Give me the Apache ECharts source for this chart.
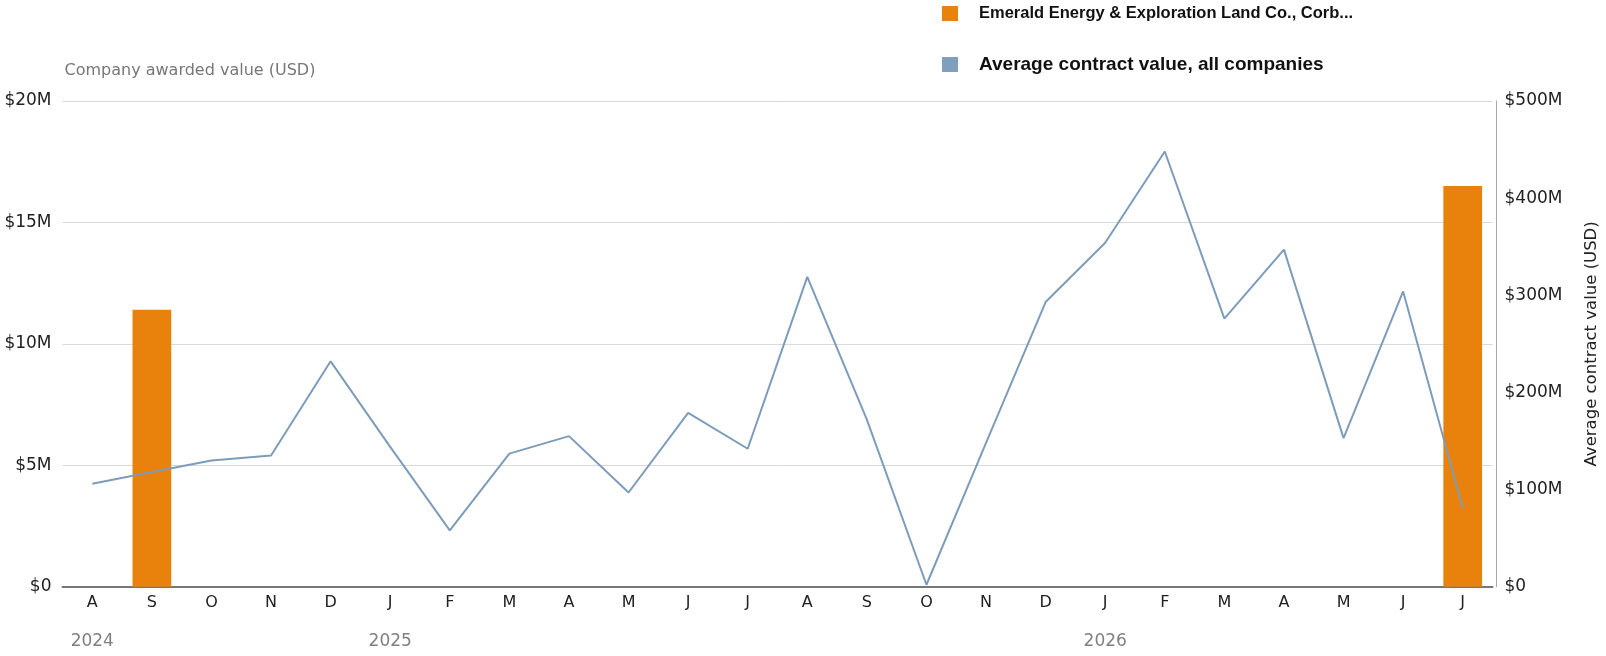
<!DOCTYPE html>
<html>
<head>
<meta charset="utf-8">
<script src="https://cdn.jsdelivr.net/npm/echarts@6/dist/echarts.min.js"></script>
<style>
	html, body { margin: 0; padding: 0; background: #fff; overflow: hidden; }
	#chart { width: 1606px; height: 656px; }
</style>
</head>
<body>
<div id="chart"></div>
<script>
// months from Aug 2024 to Jul 2026
var months = ['A', 'S', 'O', 'N', 'D', 'J', 'F', 'M', 'A', 'M', 'J', 'J',
	'A', 'S', 'O', 'N', 'D', 'J', 'F', 'M', 'A', 'M', 'J', 'J'];
var yearLabels = ['2024', '', '', '', '', '2025', '', '', '', '', '', '',
	'', '', '', '', '', '2026', '', '', '', '', '', ''];
// company awarded value, millions USD (left axis)
var companyValues = [0, 11.4, 0, 0, 0, 0, 0, 0, 0, 0, 0, 0,
	0, 0, 0, 0, 0, 0, 0, 0, 0, 0, 0, 16.5];
// average contract value, all companies, millions USD (right axis)
var averageValues = [106, 118, 130, 135, 232, 144, 58, 137, 155, 97, 179, 142,
	319, 172, 2, 148, 293, 354, 448, 276, 347, 153, 304, 81];

var companyName = 'Emerald Energy & Exploration Land Co., Corb...';
var averageName = 'Average contract value, all companies';

var baseFont = '"DejaVu Sans", Verdana, sans-serif';

function moneyLabel(v) {
	return v === 0 ? '$0' : '$' + v + 'M';
}

var chart = echarts.init(document.getElementById('chart'));

var option = {
	animation: false,
	backgroundColor: '#fff',
	textStyle: { fontFamily: baseFont },
	legend: {
		orient: 'vertical',
		left: 942,
		top: 5,
		padding: 0,
		icon: 'rect',
		itemWidth: 16,
		itemHeight: 15,
		itemGap: 33,
		selectedMode: false,
		textStyle: {
			fontFamily: '"Liberation Sans", Arial, sans-serif',
			fontWeight: 'bold',
			fontSize: 19,
			color: '#111',
			lineHeight: 15,
			padding: [0, 0, 0, 16]
		},
		data: [{
			name: companyName,
			textStyle: { fontSize: 16.5 }
		}, {
			name: averageName
		}]
	},
	grid: {
		left: 62.5,
		right: 113.5,
		top: 101,
		bottom: 69.3,
		containLabel: false,
		outerBoundsMode: 'none'
	},
	xAxis: [{
		type: 'category',
		data: months,
		boundaryGap: true,
		axisLine: { show: true, lineStyle: { color: '#777', width: 2 } },
		axisTick: { show: false },
		axisLabel: { interval: 0, margin: 8, fontSize: 16, color: '#222' },
		splitLine: { show: false }
	}, {
		type: 'category',
		data: yearLabels,
		position: 'bottom',
		offset: 38,
		boundaryGap: true,
		axisLine: { show: false },
		axisTick: { show: false },
		axisLabel: { interval: 0, margin: 8, fontSize: 17, color: '#808080' },
		splitLine: { show: false }
	}],
	yAxis: [{
		type: 'value',
		min: 0,
		max: 20,
		interval: 5,
		name: 'Company awarded value (USD)',
		nameLocation: 'end',
		nameGap: 30,
		nameTextStyle: {
			align: 'left',
			verticalAlign: 'middle',
			fontSize: 16,
			color: '#777',
			padding: [0, 0, 0, 2]
		},
		axisLine: { show: false },
		axisTick: { show: false },
		axisLabel: { formatter: moneyLabel, fontSize: 17, color: '#222', margin: 11 },
		splitLine: { show: true, lineStyle: { color: '#d9d9d9', width: 1 } }
	}, {
		type: 'value',
		position: 'right',
		min: 0,
		max: 500,
		interval: 100,
		offset: 4,
		name: 'Average contract value (USD)',
		nameLocation: 'middle',
		nameRotate: 90,
		nameGap: 87,
		nameTextStyle: { fontSize: 16.5, color: '#222' },
		axisLine: { show: true, lineStyle: { color: '#aaa', width: 1 } },
		axisTick: { show: false },
		axisLabel: { formatter: moneyLabel, fontSize: 17, color: '#222', margin: 8 },
		splitLine: { show: false }
	}],
	series: [{
		name: companyName,
		type: 'bar',
		xAxisIndex: 0,
		yAxisIndex: 0,
		data: companyValues,
		barWidth: '65%',
		itemStyle: { color: '#e8820c' }
	}, {
		name: averageName,
		type: 'line',
		xAxisIndex: 0,
		yAxisIndex: 1,
		data: averageValues,
		showSymbol: false,
		symbol: 'none',
		itemStyle: { color: '#7f9fbd' },
		lineStyle: { color: '#7d9cba', width: 2 }
	}]
};

chart.setOption(option);
</script>
</body>
</html>
